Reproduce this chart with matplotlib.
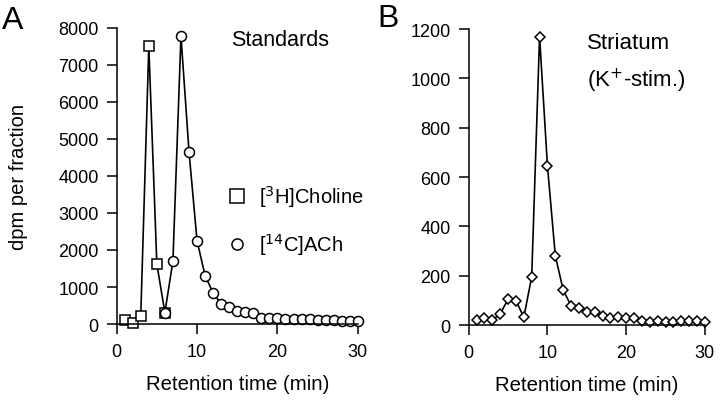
import matplotlib.pyplot as plt

plt.rcParams['font.family'] = ['Liberation Sans', 'DejaVu Sans']

# Panel A - standards
choline_min = [1, 2, 3, 4, 5, 6]
choline_dpm = [120, 30, 230, 7500, 1620, 310]

ach_min = [6, 7, 8, 9, 10, 11, 12, 13, 14, 15, 16, 17, 18, 19, 20, 21, 22,
           23, 24, 25, 26, 27, 28, 29, 30]
ach_dpm = [310, 1700, 7780, 4660, 2250, 1310, 840, 540, 450, 360, 320, 300,
           170, 160, 150, 140, 140, 130, 130, 120, 120, 110, 70, 70, 70]

# Panel B - striatum (K+ stimulated)
str_min = list(range(1, 31))
str_dpm = [20, 27, 20, 45, 105, 99, 31, 196, 1170, 646, 281, 142, 78, 68, 51,
           54, 35, 27, 31, 27, 27, 18, 14, 18, 14, 14, 18, 18, 18, 14]

fig = plt.figure(figsize=(7.2, 4.02), dpi=100)
ax1 = fig.add_axes([0.162, 0.1915, 0.335, 0.7365])
ax2 = fig.add_axes([0.651, 0.189, 0.328, 0.736])

lw = 1.2
tick_fs = 13
label_fs = 14.7

# panel A
ax1.plot(choline_min + ach_min[1:], choline_dpm + ach_dpm[1:], color='black', linewidth=lw, clip_on=False)
ax1.plot(choline_min, choline_dpm, linestyle='', marker='s', markersize=7.3,
         markerfacecolor='white', markeredgecolor='black', markeredgewidth=1.1, clip_on=False)
ax1.plot(ach_min, ach_dpm, linestyle='', marker='o', markersize=7.2,
         markerfacecolor='white', markeredgecolor='black', markeredgewidth=1.1, clip_on=False)
ax1.set_xlim(0, 30)
ax1.set_ylim(0, 8000)
ax1.set_xticks([0, 10, 20, 30])
ax1.set_yticks(range(0, 8001, 1000))
ax1.set_xlabel('Retention time (min)', fontsize=label_fs, labelpad=10)
ax1.set_ylabel('dpm per fraction', fontsize=14.5, labelpad=22)
ax1.text(0.475, 0.962, 'Standards', transform=ax1.transAxes, fontsize=15.5, va='center')

# legend drawn by hand
ax1.plot([0.5], [0.432], transform=ax1.transAxes, marker='s', markersize=10,
         markerfacecolor='white', markeredgecolor='black', markeredgewidth=1.1, clip_on=False)
ax1.text(0.59, 0.432, '[$^{3}$H]Choline', transform=ax1.transAxes, fontsize=14.5, va='center')
ax1.plot([0.5], [0.27], transform=ax1.transAxes, marker='o', markersize=8,
         markerfacecolor='white', markeredgecolor='black', markeredgewidth=1.1, clip_on=False)
ax1.text(0.59, 0.27, '[$^{14}$C]ACh', transform=ax1.transAxes, fontsize=14.5, va='center')

# panel B
ax2.plot(str_min, str_dpm, color='black', linewidth=lw, marker='D', markersize=5,
         markerfacecolor='white', markeredgecolor='black', markeredgewidth=1.1, clip_on=False)
ax2.set_xlim(0, 30)
ax2.set_ylim(0, 1200)
ax2.set_xticks([0, 10, 20, 30])
ax2.set_yticks(range(0, 1201, 200))
ax2.set_xlabel('Retention time (min)', fontsize=label_fs, labelpad=10)
ax2.text(0.5, 0.955, 'Striatum', transform=ax2.transAxes, fontsize=16, va='center')
ax2.text(0.5, 0.83, '(K$^{+}$-stim.)', transform=ax2.transAxes, fontsize=16, va='center')

for ax in (ax1, ax2):
    ax.spines['top'].set_visible(False)
    ax.spines['right'].set_visible(False)
    ax.spines['left'].set_linewidth(1.1)
    ax.spines['bottom'].set_linewidth(1.1)
    ax.tick_params(direction='out', length=7, width=1.1, labelsize=tick_fs)
    ax.tick_params(axis='x', pad=7)
    ax.tick_params(axis='y', pad=6)

fig.text(0.003, 0.985, 'A', fontsize=23, va='top')
fig.text(0.524, 0.99, 'B', fontsize=23, va='top')

fig.savefig('out.png', dpi=100)
